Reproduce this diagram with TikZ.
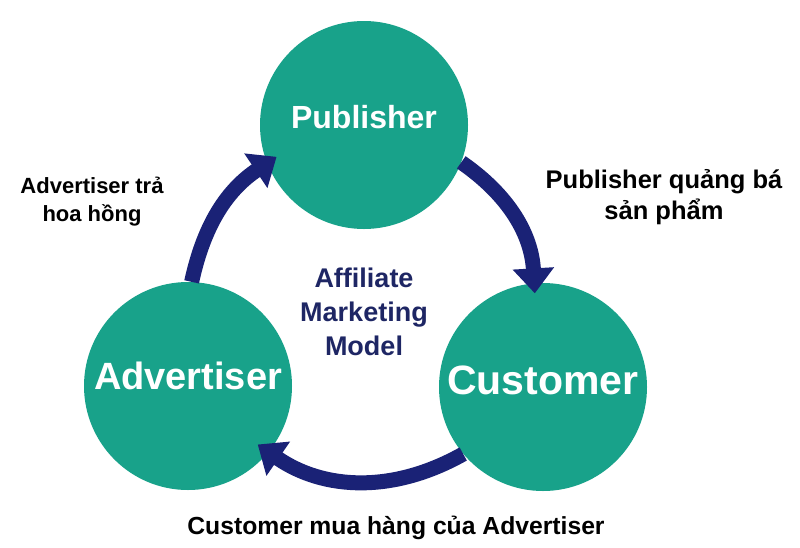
\documentclass[tikz,border=0pt]{standalone}
\usepackage{fontspec}
\setmainfont{Liberation Sans}
\usetikzlibrary{arrows.meta}
\definecolor{hubgreen}{RGB}{24,162,138}
\definecolor{flownavy}{RGB}{26,34,118}
\definecolor{titlenavy}{RGB}{30,38,100}
\begin{document}
\begin{tikzpicture}[
    x=1pt, y=1pt,
    hub/.style={circle, fill=hubgreen, minimum size=208pt, inner sep=0pt},
    hubtext/.style={text=white, font=\bfseries\fontsize{#1}{#1}\selectfont},
    flow/.style={draw=flownavy, line width=15pt, -{Triangle[length=25pt,width=40pt]}},
    note/.style 2 args={align=center, inner sep=0pt, font=\bfseries\fontsize{#1}{#2}\selectfont}
]
    \useasboundingbox[fill=white] (0,0) rectangle (800,-547);

    \node[hub, label={[hubtext=32, yshift=8pt]center:Publisher}] (publisher) at (364,-125) {};
    \node[hub, label={[hubtext=38, yshift=10pt]center:Advertiser}] (advertiser) at (188,-386) {};
    \node[hub, label={[hubtext=41, yshift=7pt]center:Customer}] (customer) at (543,-387) {};

    \path (publisher.center) ++(200:93) coordinate (tipA);
    \path (customer.center) ++(95:94) coordinate (tipB);
    \path (advertiser.center) ++(320:91) coordinate (tipC);

    \draw[flow] (advertiser.88) to[bend left=22] (tipA);
    \draw[flow] (publisher.339) to[bend left=26] (tipB);
    \draw[flow] (customer.220) to[bend left=32] (tipC);

    \node[note={27}{34}, text=titlenavy] (model) at (364,-312) {Affiliate\\Marketing\\Model};
    \node[note={22}{28}] (pay) at (92,-202) {Advertiser trả\\hoa hồng};
    \node[note={25.5}{31}] (promote) at (664,-197) {Publisher quảng bá\\sản phẩm};
    \node[note={24.7}{30}] (buy) at (396,-528) {Customer mua hàng của Advertiser};
\end{tikzpicture}
\end{document}
